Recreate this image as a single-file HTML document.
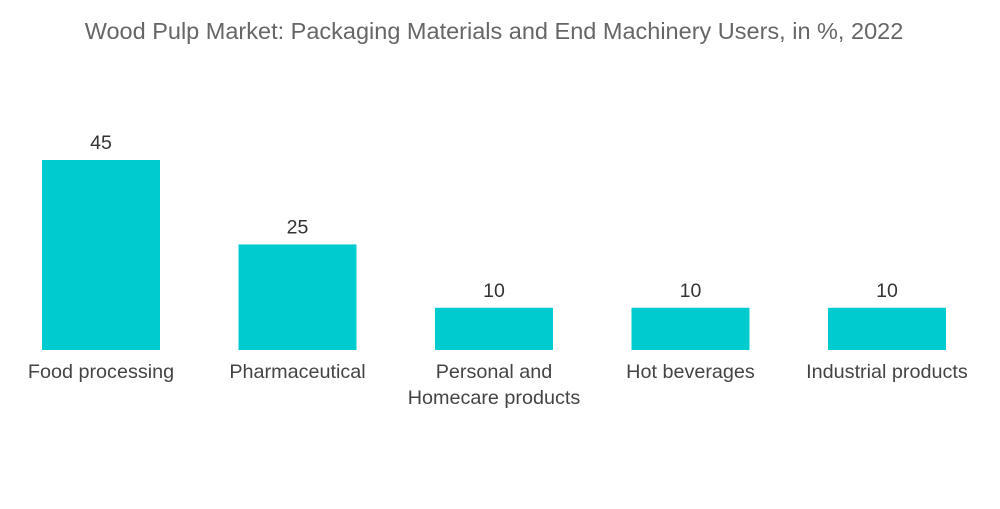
<!DOCTYPE html>
<html>
<head>
<meta charset="utf-8">
<style>
  html, body { margin:0; padding:0; background:#fff; }
  body { width:1000px; height:504px; overflow:hidden; font-family:"Liberation Sans", sans-serif; }
</style>
</head>
<body>
<svg id="chart" width="1000" height="504" xmlns="http://www.w3.org/2000/svg">
  <text x="494" y="39" text-anchor="middle" font-size="23.5" fill="#666" font-family="Liberation Sans, sans-serif">Wood Pulp Market: Packaging Materials and End Machinery Users, in %, 2022</text>
  <g id="bars"></g>
</svg>
<script>
const categories = [["Food processing"], ["Pharmaceutical"], ["Personal and", "Homecare products"], ["Hot beverages"], ["Industrial products"]];
const values = [45, 25, 10, 10, 10];
const valueLabels = ["45", "25", "10", "10", "10"];

const baseY = 350, pxPerUnit = 4.222;
const firstCenter = 101, step = 196.5, barW = 118;
const xPos = i => firstCenter + i * step;
const yPos = v => baseY - v * pxPerUnit;
const NS = "http://www.w3.org/2000/svg";
const g = document.getElementById("bars");

values.forEach((v, i) => {
  const r = document.createElementNS(NS, "rect");
  r.setAttribute("x", xPos(i) - barW / 2);
  r.setAttribute("y", yPos(v));
  r.setAttribute("width", barW);
  r.setAttribute("height", baseY - yPos(v));
  r.setAttribute("fill", "#00cccf");
  
  
  g.appendChild(r);

  const t = document.createElementNS(NS, "text");
  t.setAttribute("x", xPos(i));
  t.setAttribute("y", yPos(v) - 11);
  t.setAttribute("text-anchor", "middle");
  t.setAttribute("font-size", "19.5");
  t.setAttribute("fill", "#333");
  t.textContent = valueLabels[i];
  
  
  g.appendChild(t);

  categories[i].forEach((line, j) => {
    const c = document.createElementNS(NS, "text");
    c.setAttribute("x", xPos(i));
    c.setAttribute("y", 378 + j * 26);
    c.setAttribute("text-anchor", "middle");
    c.setAttribute("font-size", "19.8");
    c.setAttribute("fill", "#444");
    c.textContent = line;
    
    
    g.appendChild(c);
  });
});
</script>
</body>
</html>
